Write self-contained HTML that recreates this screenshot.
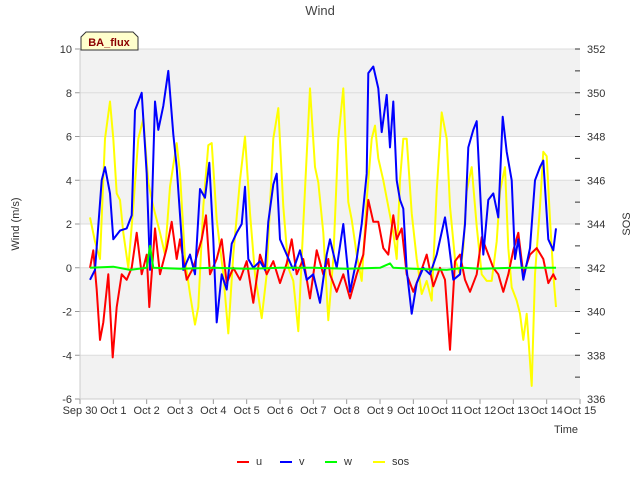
<!DOCTYPE html>
<html><head><meta charset="utf-8"><style>
body{margin:0;background:#fff;font-family:"Liberation Sans",sans-serif}
svg text{font-family:"Liberation Sans",sans-serif}
</style></head><body>
<svg id="chart" width="640" height="480" viewBox="0 0 640 480" xmlns="http://www.w3.org/2000/svg">
<rect x="0" y="0" width="640" height="480" fill="#fff"/>
<g id="bands"></g><g id="grid"></g>
<g id="series"></g>
<g id="axes"></g>
<text x="320" y="15" text-anchor="middle" font-size="13" fill="#444">Wind</text>
<text transform="translate(19,224) rotate(-90)" text-anchor="middle" font-size="11" fill="#333">Wind (m/s)</text>
<text transform="translate(630,224) rotate(-90)" text-anchor="middle" font-size="11" fill="#333">SOS</text>
<text x="578" y="433" text-anchor="end" font-size="11" fill="#333">Time</text>
<g>
<path d="M81,50 L81,37 L86,32 L133,32 L138,37 L138,50 Z" fill="#ffffcc" stroke="#333" stroke-width="1"/>
<text x="109" y="46" text-anchor="middle" font-size="11" font-weight="bold" fill="#8b0000">BA_flux</text>
</g>
<g id="legend"></g>
</svg>
<script>
const xTicks=['Sep 30','Oct 1','Oct 2','Oct 3','Oct 4','Oct 5','Oct 6','Oct 7','Oct 8','Oct 9','Oct 10','Oct 11','Oct 12','Oct 13','Oct 14','Oct 15'];
const yTicks=[-6,-4,-2,0,2,4,6,8,10];
const y2Ticks=[336,338,340,342,344,346,348,350,352];
const uT=[0.3,0.4,0.5,0.6,0.7,0.85,0.98,1.1,1.25,1.4,1.55,1.7,1.85,2.0,2.08,2.25,2.4,2.6,2.75,2.9,3.0,3.2,3.4,3.65,3.78,3.9,4.1,4.25,4.4,4.6,4.8,5.0,5.2,5.4,5.6,5.8,6.0,6.2,6.35,6.5,6.7,6.9,7.1,7.3,7.45,7.5,7.7,7.9,8.1,8.3,8.5,8.65,8.8,8.95,9.1,9.25,9.4,9.5,9.65,9.8,10.0,10.2,10.4,10.6,10.8,10.95,11.1,11.25,11.4,11.55,11.7,11.9,12.05,12.2,12.4,12.55,12.7,12.85,13.0,13.15,13.3,13.5,13.7,13.9,14.05,14.2,14.28];
const uV=[0,0.8,-1.0,-3.3,-2.5,-0.3,-4.1,-1.8,-0.3,-0.55,0,1.6,-0.3,0.6,-1.8,1.8,-0.3,0.9,2.1,0.4,1.3,-0.55,0,1.3,2.4,-0.3,0.4,1.3,-0.7,0,-0.55,0.3,-1.6,0.6,-0.3,0.3,-0.7,0.2,1.3,-0.3,0.4,-1.4,0.8,-0.3,0.4,-0.3,-1.1,-0.3,-1.4,-0.3,0.6,3.1,2.1,2.1,0.9,0.6,2.4,1.3,1.8,-0.3,-1.1,-0.3,0.6,-0.85,0,-0.55,-3.75,0.3,0.6,-0.55,-1.1,-0.3,1.4,0.8,0,-0.3,-1.1,-0.3,0.8,1.6,-0.3,0.6,0.9,0.4,-0.7,-0.3,-0.55];
const vT=[0.3,0.45,0.65,0.75,0.9,1.0,1.2,1.4,1.55,1.65,1.85,2.0,2.1,2.25,2.35,2.5,2.65,2.8,2.9,3.05,3.1,3.3,3.45,3.6,3.75,3.88,4.0,4.1,4.25,4.4,4.55,4.7,4.85,4.95,5.05,5.2,5.4,5.55,5.65,5.8,5.9,6.0,6.2,6.4,6.6,6.8,7.0,7.2,7.4,7.5,7.7,7.9,8.1,8.3,8.45,8.6,8.65,8.8,8.95,9.05,9.2,9.3,9.4,9.5,9.6,9.7,9.8,9.95,10.1,10.3,10.5,10.7,10.95,11.05,11.2,11.4,11.55,11.65,11.8,11.9,12.0,12.1,12.25,12.4,12.55,12.68,12.8,12.95,13.05,13.15,13.3,13.5,13.65,13.8,13.9,14.05,14.2,14.28];
const vV=[-0.55,-0.1,4.0,4.6,3.4,1.3,1.7,1.8,2.4,7.2,8.0,4.3,-0.1,7.6,6.3,7.4,9.0,6.1,4.6,1.3,-0.1,0.6,-0.3,3.6,3.2,4.8,1.3,-2.5,-0.3,-1.0,1.1,1.6,2.0,3.7,0.4,0,0.3,-0.1,2.1,3.8,4.3,1.3,0.6,-0.1,0.8,-0.55,-0.3,-1.6,0.6,1.3,0,2.0,-1.1,0.4,2.0,4.3,8.9,9.2,8.2,6.2,7.9,5.5,7.6,4.0,3.1,2.7,-0.1,-2.1,-0.7,0,-0.3,0.6,2.3,1.3,-0.55,-0.3,2.0,5.5,6.3,6.7,3.6,0.6,3.1,3.4,2.3,6.9,5.3,4.0,0.4,1.3,-0.55,0.9,4.0,4.6,4.9,1.3,0.8,1.8];
const wT=[0.3,1.0,1.5,2.0,2.1,2.2,3.0,4.0,5.0,6.0,7.0,8.0,9.0,9.3,9.4,10.0,11.0,11.5,12.0,13.0,14.0,14.28];
const wV=[0,0.05,-0.1,0,1.0,0,-0.05,0,-0.05,0,0,-0.05,0,0.2,0,-0.05,-0.1,0,-0.05,0,0,0];
const sT=[0.3,0.45,0.6,0.75,0.9,1.0,1.1,1.2,1.3,1.45,1.6,1.75,1.9,2.05,2.2,2.4,2.55,2.7,2.9,3.0,3.15,3.3,3.45,3.55,3.7,3.85,3.95,4.1,4.3,4.45,4.6,4.8,4.95,5.1,5.25,5.45,5.6,5.8,5.95,6.1,6.25,6.4,6.55,6.7,6.9,7.05,7.15,7.3,7.45,7.6,7.75,7.9,8.05,8.15,8.3,8.45,8.6,8.75,8.85,8.95,9.1,9.25,9.4,9.5,9.6,9.7,9.8,9.95,10.1,10.25,10.4,10.55,10.7,10.85,11.0,11.1,11.25,11.4,11.5,11.6,11.75,11.9,12.05,12.2,12.35,12.5,12.6,12.75,12.85,12.95,13.1,13.2,13.3,13.4,13.55,13.65,13.8,13.9,14.0,14.1,14.2,14.28];
const sV=[344.3,343.2,342.4,347.9,349.6,347.9,345.4,345.1,343.6,342.0,344.8,347.9,348.8,345.9,344.8,343.6,342.6,345.7,347.7,346.3,342.4,340.8,339.4,340.2,344.8,347.6,347.7,344.2,341.7,339.0,342.6,346.0,348.0,344.5,341.7,339.7,341.7,347.9,349.3,344.8,342.0,341.4,339.1,344.0,350.2,346.6,345.9,343.6,339.6,342.4,347.9,350.2,345.0,344.2,342.6,341.4,345.1,347.9,348.5,347.0,346.0,344.8,343.6,342.4,346.0,347.9,347.9,344.5,342.4,340.8,341.4,340.5,345.5,349.1,347.9,344.8,342.4,341.7,342.9,345.5,346.6,343.9,341.7,341.4,341.4,343.2,345.5,346.6,342.9,341.1,340.5,339.9,338.7,339.9,336.6,341.7,344.8,347.3,347.1,344.2,341.7,340.2];

const L=80,R=580,T=49,B=399;
const xs=t=>L+(R-L)*t/15;
const ys=v=>B-(B-T)*(v+6)/16;
const ys2=v=>B-(B-T)*(v-336)/16;
const NS='http://www.w3.org/2000/svg';
function mk(tag,attrs,parent){const e=document.createElementNS(NS,tag);for(const k in attrs)e.setAttribute(k,attrs[k]);parent.appendChild(e);return e;}
const bands=document.getElementById('bands'),grid=document.getElementById('grid'),axes=document.getElementById('axes'),series=document.getElementById('series'),legend=document.getElementById('legend');
for(let v=-4;v<10;v+=4){const b=mk('rect',{x:L,y:ys(v),width:R-L,height:ys(v-2)-ys(v),fill:'#f2f2f2'},bands);

}
mk('rect',{x:L,y:ys(10),width:R-L,height:ys(8)-ys(10),fill:'#f2f2f2'},bands);
yTicks.forEach(v=>{const g=mk('line',{x1:L,x2:R,y1:ys(v),y2:ys(v),stroke:'#dcdcdc','stroke-width':1},grid);


const t=mk('text',{x:L-8,y:ys(v)+4,'text-anchor':'end','font-size':11,fill:'#333'},axes);t.textContent=v;


mk('line',{x1:L-5,x2:L,y1:ys(v),y2:ys(v),stroke:'#999'},axes);});
y2Ticks.forEach(v=>{const t=mk('text',{x:R+7,y:ys2(v)+4,'font-size':11,fill:'#333'},axes);t.textContent=v;

});
for(let v=336;v<=352;v++){mk('line',{x1:R-5,x2:R,y1:ys2(v),y2:ys2(v),stroke:'#333'},axes);}
xTicks.forEach((s,i)=>{const t=mk('text',{x:xs(i),y:414,'text-anchor':'middle','font-size':11,fill:'#333'},axes);t.textContent=s;


mk('line',{x1:xs(i),x2:xs(i),y1:B,y2:B+5,stroke:'#999'},axes);});
mk('line',{x1:L,x2:L,y1:T,y2:B,stroke:'#ccc'},axes);
mk('line',{x1:L,x2:R,y1:B,y2:B,stroke:'#ccc'},axes);
function line(tArr,vArr,yf,color,name){const d=tArr.map((t,i)=>(i?'L':'M')+xs(t).toFixed(1)+','+yf(vArr[i]).toFixed(1)).join(' ');
const p=mk('path',{d:d,fill:'none',stroke:color,'stroke-width':2,'stroke-linejoin':'round'},series);

}
line(sT,sV,ys2,'#ffff00','sos-line');
line(uT,uV,ys,'#ff0000','u-line');
line(vT,vV,ys,'#0000ff','v-line');
line(wT,wV,ys,'#00ff00','w-line');
[['u','#ff0000',237],['v','#0000ff',280],['w','#00ff00',325],['sos','#ffff00',373]].forEach(([n,c,x])=>{
const l=mk('line',{x1:x,x2:x+12,y1:462,y2:462,stroke:c,'stroke-width':2},legend);


const t=mk('text',{x:x+19,y:465,'font-size':11,fill:'#333'},legend);t.textContent=n;

});
</script>
</body></html>
